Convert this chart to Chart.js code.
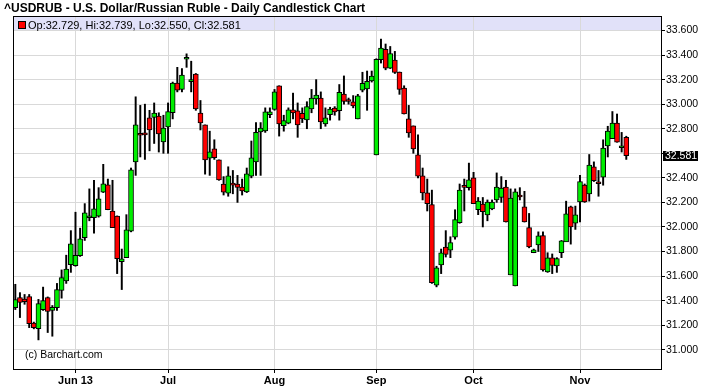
<!DOCTYPE html>
<html>
<head>
<meta charset="utf-8">
<script src="https://cdn.jsdelivr.net/npm/chart.js@4.4.0/dist/chart.umd.min.js"></script>
<style>
  html, body { margin: 0; padding: 0; background: #fff; }
  #wrap { width: 706px; height: 390px; }
</style>
</head>
<body>
<div id="wrap"><canvas id="usdrub-chart" width="706" height="390"></canvas></div>
<script>
// daily OHLC, 15 May 2013 .. 15 Nov 2013 (weekdays)
const opens = [
  31.343, 31.424, 31.413, 31.432, 31.218, 31.172, 31.327, 31.424, 31.321, 31.343,
  31.484, 31.560, 31.693, 31.685, 31.766, 31.912, 32.075, 32.075, 32.088, 32.283,
  32.343, 32.129, 32.088, 31.717, 31.750, 31.966, 32.530, 32.763, 32.766, 32.888,
  32.893, 32.904, 32.693, 32.815, 32.931, 33.172, 33.121, 33.366, 33.183, 33.246,
  32.928, 32.831, 32.560, 32.636, 32.546, 32.349, 32.276, 32.351, 32.350, 32.324,
  32.286, 32.414, 32.530, 32.774, 32.782, 32.915, 32.958, 33.150, 32.825, 32.845,
  32.953, 32.945, 32.926, 32.872, 32.961, 33.042, 33.050, 32.839, 32.915, 32.969,
  32.948, 33.083, 33.030, 33.020, 32.880, 33.115, 33.124, 33.189, 32.587, 33.362,
  33.446, 33.294, 33.359, 33.262, 33.132, 32.880, 32.823, 32.587, 32.416, 32.278,
  32.183, 31.525, 31.690, 31.836, 31.810, 31.917, 32.034, 32.328, 32.319, 32.400,
  32.140, 32.187, 32.098, 32.146, 32.220, 32.241, 32.325, 31.610, 31.520, 32.260,
  32.163, 31.995, 31.790, 31.853, 31.930, 31.634, 31.748, 31.683, 31.790, 31.878,
  32.163, 32.030, 32.203, 32.340, 32.268, 32.490, 32.360, 32.406, 32.660, 32.718,
  32.846, 32.645, 32.729
]
const highs = [
  31.533, 31.465, 31.450, 31.450, 31.225, 31.410, 31.510, 31.430, 31.360, 31.540,
  31.650, 31.770, 31.970, 32.120, 31.990, 32.190, 32.310, 32.380, 32.320, 32.510,
  32.390, 32.380, 32.090, 31.820, 32.100, 32.480, 33.060, 32.990, 33.000, 32.950,
  33.010, 32.930, 32.910, 33.010, 33.180, 33.300, 33.290, 33.410, 33.350, 33.250,
  33.030, 32.831, 32.780, 32.710, 32.546, 32.410, 32.490, 32.460, 32.420, 32.390,
  32.480, 32.700, 32.850, 32.850, 32.970, 32.970, 33.120, 33.150, 32.910, 32.970,
  33.090, 33.010, 32.970, 33.020, 33.120, 33.200, 33.100, 32.970, 32.975, 32.980,
  33.160, 33.230, 33.050, 33.070, 33.080, 33.260, 33.270, 33.270, 33.370, 33.530,
  33.490, 33.470, 33.430, 33.262, 33.150, 32.990, 32.823, 32.750, 32.480, 32.390,
  32.300, 31.680, 31.820, 31.970, 31.920, 32.140, 32.350, 32.390, 32.520, 32.445,
  32.240, 32.240, 32.220, 32.220, 32.440, 32.410, 32.380, 32.310, 32.310, 32.320,
  32.290, 32.110, 31.820, 31.960, 31.960, 31.790, 31.780, 31.750, 31.890, 32.210,
  32.170, 32.170, 32.420, 32.350, 32.590, 32.530, 32.460, 32.710, 32.820, 32.940,
  32.920, 32.770, 32.739
]
const lows = [
  31.327, 31.262, 31.370, 31.180, 31.170, 31.080, 31.320, 31.140, 31.110, 31.320,
  31.420, 31.540, 31.630, 31.680, 31.760, 31.890, 32.050, 31.950, 32.080, 32.280,
  32.140, 31.994, 31.620, 31.490, 31.750, 31.960, 32.420, 32.570, 32.550, 32.620,
  32.680, 32.610, 32.600, 32.600, 32.880, 33.100, 33.100, 33.300, 33.100, 32.950,
  32.790, 32.430, 32.420, 32.550, 32.380, 32.260, 32.250, 32.270, 32.200, 32.260,
  32.280, 32.400, 32.420, 32.420, 32.770, 32.890, 32.950, 32.740, 32.780, 32.840,
  32.880, 32.730, 32.850, 32.800, 32.930, 33.000, 32.800, 32.820, 32.870, 32.910,
  32.870, 33.000, 33.000, 32.970, 32.880, 33.100, 32.950, 33.180, 32.587, 33.335,
  33.280, 33.290, 33.250, 33.080, 32.920, 32.730, 32.600, 32.400, 32.220, 32.130,
  31.540, 31.512, 31.620, 31.755, 31.750, 31.900, 32.030, 32.130, 32.300, 32.190,
  32.100, 32.000, 32.050, 32.140, 32.200, 32.200, 32.040, 31.610, 31.520, 32.220,
  32.040, 31.830, 31.790, 31.800, 31.640, 31.630, 31.620, 31.630, 31.750, 31.880,
  31.860, 31.980, 32.040, 32.200, 32.210, 32.370, 32.250, 32.340, 32.570, 32.720,
  32.690, 32.610, 32.550
]
const closes = [
  31.408, 31.386, 31.392, 31.213, 31.180, 31.376, 31.400, 31.311, 31.346, 31.489,
  31.587, 31.657, 31.863, 31.769, 31.904, 32.115, 32.088, 32.148, 32.229, 32.351,
  32.140, 31.994, 31.741, 31.741, 31.977, 32.465, 32.831, 32.747, 32.750, 32.790,
  32.928, 32.758, 32.806, 32.939, 33.172, 33.115, 33.237, 33.382, 33.200, 32.961,
  32.847, 32.546, 32.611, 32.565, 32.384, 32.283, 32.416, 32.340, 32.322, 32.294,
  32.432, 32.563, 32.770, 32.806, 32.937, 32.937, 33.100, 32.840, 32.866, 32.953,
  32.928, 32.831, 32.880, 32.980, 33.050, 33.075, 32.855, 32.888, 32.961, 32.937,
  33.096, 33.023, 33.022, 32.985, 33.067, 33.170, 33.186, 33.229, 33.365, 33.457,
  33.294, 33.413, 33.259, 33.121, 32.920, 32.766, 32.636, 32.414, 32.278, 32.189,
  31.546, 31.667, 31.790, 31.776, 31.872, 32.060, 32.300, 32.322, 32.384, 32.190,
  32.210, 32.125, 32.203, 32.203, 32.325, 32.317, 32.040, 32.236, 32.287, 32.244,
  32.040, 31.837, 31.813, 31.927, 31.650, 31.748, 31.686, 31.743, 31.886, 32.106,
  32.000, 32.098, 32.370, 32.203, 32.504, 32.377, 32.352, 32.642, 32.780, 32.846,
  32.690, 32.659, 32.581
]

const yTickValues = [31.0, 31.2, 31.4, 31.6, 31.8, 32.0, 32.2, 32.4, 32.6, 32.8, 33.0, 33.2, 33.4, 33.6]
const monthLabels = ['Jun 13', 'Jul', 'Aug', 'Sep', 'Oct', 'Nov']
const emptySlots = 7 // blank days right of the last candle

const upColor = '#00ee00'
const downColor = '#ff0000'
const gridColor = '#d9d9d9'
const fontFamily = '"Liberation Sans", Arial, sans-serif'

// weekday dates for the x categories
const dates = []
for (let d = new Date(Date.UTC(2013, 4, 15)); dates.length < opens.length; d.setUTCDate(d.getUTCDate() + 1)) {
  const wd = d.getUTCDay()
  if (wd !== 0 && wd !== 6) dates.push(d.toISOString().slice(0, 10))
}
const labels = dates.concat(Array(emptySlots).fill(''))

// first trading day of each month after the first one
const monthIdx = []
dates.forEach((d, i) => {
  if (i > 0 && d.slice(0, 7) !== dates[i - 1].slice(0, 7)) monthIdx.push(i)
})

const last = opens.length - 1
const lastClose = closes[last]

Chart.defaults.font.family = fontFamily
Chart.defaults.color = '#000'

const framePlugin = {
  id: 'frame',
  beforeDraw(chart) {
    const { ctx, chartArea: a } = chart
    ctx.save()
    ctx.fillStyle = '#fff'
    ctx.fillRect(0, 0, chart.width, chart.height)
    ctx.fillStyle = '#e1e1f9'
    ctx.fillRect(a.left, a.top, a.right - a.left, 13)
    ctx.restore()
  },
  afterDraw(chart) {
    const { ctx, chartArea: a } = chart
    const y = chart.scales.y
    ctx.save()
    // plot frame
    ctx.strokeStyle = '#000'
    ctx.lineWidth = 1
    ctx.strokeRect(a.left + 0.5, a.top - 0.5, a.right - a.left, a.bottom - a.top + 1)

    // title
    ctx.fillStyle = '#000'
    ctx.textBaseline = 'alphabetic'
    ctx.font = 'bold 12px ' + fontFamily
    ctx.fillText('^USDRUB - U.S. Dollar/Russian Ruble - Daily Candlestick Chart', 4, 12)

    // legend
    const lastUp = closes[last] >= opens[last]
    ctx.fillStyle = lastUp ? upColor : downColor
    ctx.fillRect(19, 22, 6, 6)
    ctx.strokeRect(18.5, 21.5, 7, 7)
    ctx.fillStyle = '#000'
    ctx.font = '11px ' + fontFamily
    ctx.fillText('Op:' + opens[last].toFixed(3) + ', Hi:' + highs[last].toFixed(3) +
      ', Lo:' + lows[last].toFixed(3) + ', Cl:' + closes[last].toFixed(3), 28, 28.5)

    // copyright
    ctx.font = '10.5px ' + fontFamily
    ctx.fillText('(c) Barchart.com', 25, 358)

    // last price marker
    const py = Math.round(y.getPixelForValue(lastClose))
    ctx.fillStyle = '#000'
    ctx.fillRect(663, py - 5, 35, 10)
    ctx.fillStyle = '#fff'
    ctx.textBaseline = 'middle'
    ctx.font = '10.5px ' + fontFamily
    ctx.fillText(lastClose.toFixed(3), 665, py + 0.5)
    ctx.restore()
  }
}

const ctx = document.getElementById('usdrub-chart').getContext('2d')
new Chart(ctx, {
  type: 'bar',
  data: {
    labels,
    datasets: [
      {
        label: 'Range',
        data: lows.map((l, i) => [l, highs[i]]),
        backgroundColor: '#000',
        barThickness: 1.3,
        grouped: false,
        order: 2
      },
      {
        label: 'Body',
        data: opens.map((o, i) => [o, closes[i]]),
        backgroundColor: opens.map((o, i) => closes[i] >= o ? upColor : downColor),
        borderColor: '#000',
        borderWidth: 1,
        borderSkipped: false,
        barThickness: 5,
        minBarLength: 2,
        grouped: false,
        order: 1
      }
    ]
  },
  options: {
    responsive: false,
    animation: false,
    devicePixelRatio: 1,
    layout: { padding: { left: 13, top: 17, right: 0, bottom: 0 } },
    plugins: {
      legend: { display: false },
      tooltip: { enabled: false },
      title: { display: false }
    },
    scales: {
      x: {
        type: 'category',
        offset: true,
        border: { display: false },
        grid: { offset: false, color: gridColor, tickColor: '#000', tickLength: 4 },
        ticks: {
          autoSkip: false,
          maxRotation: 0,
          padding: 1,
          font: { size: 11, weight: 'bold' },
          callback: (v, i) => monthLabels[i]
        },
        afterBuildTicks: s => { s.ticks = monthIdx.map(v => ({ value: v })) },
        afterFit: s => { s.height = 21 }
      },
      y: {
        position: 'right',
        min: 30.843,
        max: 33.71,
        border: { display: false },
        grid: { color: gridColor, tickColor: '#000', tickLength: 4 },
        ticks: {
          padding: 1,
          font: { size: 10.5 },
          callback: v => Math.abs(v - lastClose) < 0.06 ? '' : v.toFixed(3)
        },
        afterBuildTicks: s => { s.ticks = yTickValues.map(v => ({ value: v })) },
        afterFit: s => { s.width = 45 }
      }
    }
  },
  plugins: [framePlugin]
})
</script>
</body>
</html>
